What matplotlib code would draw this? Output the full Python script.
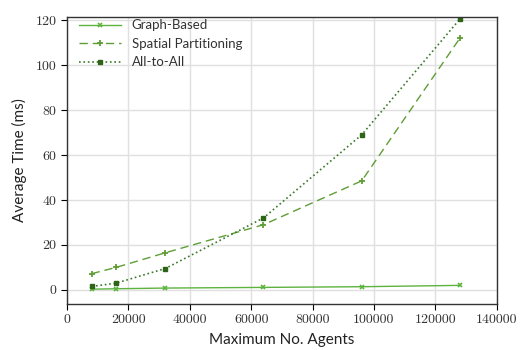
import matplotlib
matplotlib.use("Agg")
import matplotlib.pyplot as plt

# ── Data ─────────────────────────────────────────────────────────────────────
agents = [8000, 16000, 32000, 64000, 96000, 128000]
graph_based = [0.3, 0.5, 0.8, 1.1, 1.4, 2.0]
spatial = [7.2, 10.0, 16.5, 29.0, 48.5, 112.0]
all_to_all = [1.5, 3.0, 9.5, 32.0, 69.0, 120.5]

x_ticks = [0, 20000, 40000, 60000, 80000, 100000, 120000, 140000]
y_ticks = [0, 20, 40, 60, 80, 100, 120]

plt.rcParams['font.family'] = ['Lato', 'DejaVu Sans']

fig, ax = plt.subplots(figsize=(5.24, 3.50), dpi=100)
fig.subplots_adjust(left=0.128, right=0.948, top=0.952, bottom=0.132)

ax.plot(agents, graph_based, '-', color='#5cb33e', lw=1.0, marker='x',
        ms=3.0, mew=1.2, label='Graph-Based')
ax.plot(agents, spatial, '--', color='#5f9d36', lw=1.0, marker='+',
        ms=4.0, mew=1.3, dashes=(6, 3.5), label='Spatial Partitioning')
ax.plot(agents, all_to_all, ':', color='#3a7a28', lw=1.2, marker='s',
        ms=3.5, mfc='#2d6418', mec='#2d6418', label='All-to-All')

ax.set_xlim(0, 140000)
ax.set_ylim(-6.2, 121.5)
ax.set_xticks(x_ticks)
ax.set_yticks(y_ticks)
ax.set_xticklabels([str(t) for t in x_ticks], fontfamily='cmr10', fontsize=10, color='#333333')
ax.set_yticklabels([str(t) for t in y_ticks], fontfamily='cmr10', fontsize=10, color='#333333')
ax.tick_params(direction='out', length=4, width=0.8, top=False, right=False)

ax.grid(True, color='#e0e0e0', lw=1.0)
ax.set_axisbelow(True)
for s in ax.spines.values():
    s.set_color('#333333')
    s.set_linewidth(1.0)

ax.set_xlabel('Maximum No. Agents', fontsize=11, color='#222222', labelpad=5)
ax.set_ylabel('Average Time (ms)', fontsize=11, color='#222222', labelpad=6)

leg = ax.legend(loc='upper left', frameon=False, fontsize=9.5, handlelength=3.2,
                borderaxespad=0.0, bbox_to_anchor=(0.015, 1.01), labelspacing=0.5)
for t in leg.get_texts():
    t.set_color('#333333')

fig.savefig('out.png', dpi=100)
